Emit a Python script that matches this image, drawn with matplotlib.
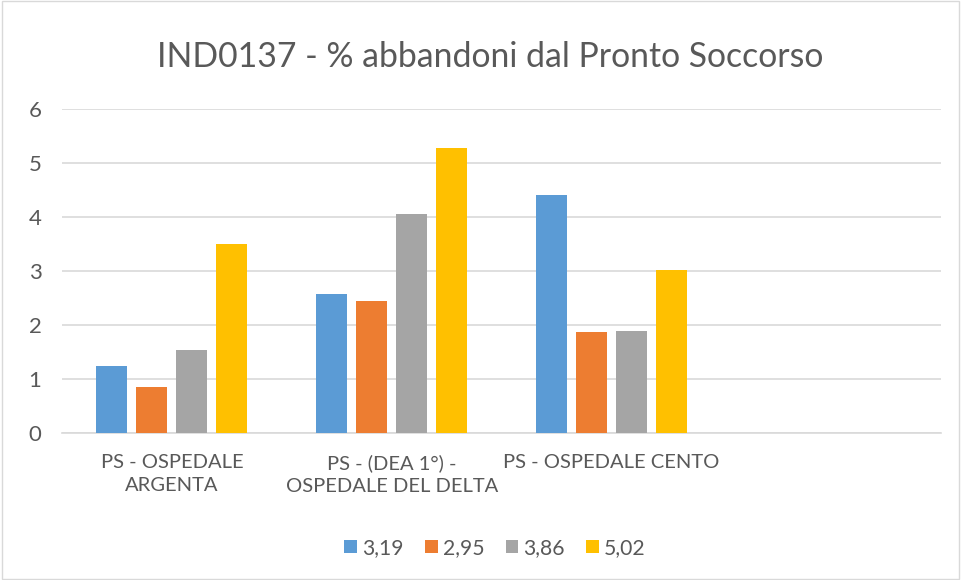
import matplotlib
matplotlib.use("Agg")
import matplotlib.pyplot as plt
import numpy as np
from matplotlib.patches import Rectangle

plt.rcParams['font.family'] = ['Lato', 'DejaVu Sans']

categories = ["PS - OSPEDALE\nARGENTA", "PS - (DEA 1°) -\nOSPEDALE DEL DELTA", "PS - OSPEDALE CENTO", ""]
series_names = ["3,19", "2,95", "3,86", "5,02"]
s1 = [1.25, 2.58, 4.41, None]
s2 = [0.86, 2.45, 1.87, None]
s3 = [1.54, 4.05, 1.90, None]
s4 = [3.50, 5.27, 3.03, None]
series = [s1, s2, s3, s4]
colors = ["#5B9BD5", "#ED7D31", "#A5A5A5", "#FFC000"]
yticks = [0, 1, 2, 3, 4, 5, 6]

fig = plt.figure(figsize=(9.61, 5.8), dpi=100)
fig.patches.append(Rectangle((0.002, 0.002), 0.996, 0.996, transform=fig.transFigure,
                             fill=False, edgecolor="#D9D9D9", linewidth=1))
ax = fig.add_axes([62/961, 1-433.3/580, (941-62)/961, (433.3-109)/580])

x = np.arange(len(categories))
step = 0.182
width = 0.141
for i, (vals, c, name) in enumerate(zip(series, colors, series_names)):
    v = np.array([np.nan if a is None else a for a in vals], dtype=float)
    ax.bar(x + (i - 1.5) * step, v, width=width, color=c, label=name, zorder=3)

ax.set_xlim(-0.5, len(categories) - 0.5)
ax.set_ylim(0, 6)
ax.set_yticks(yticks)
ax.set_yticklabels([str(t) for t in yticks])
ax.set_xticks(x)
ax.set_xticklabels(categories, linespacing=1.45)
ax.tick_params(axis='both', length=0, labelcolor="#595959")
ax.tick_params(axis='x', pad=15, labelsize=14.5)
ax.tick_params(axis='y', pad=24, labelsize=16)
for lbl in ax.get_yticklabels():
    lbl.set_horizontalalignment('left')
ax.grid(axis='y', color="#D9D9D9", linewidth=1.2, zorder=0)
for s in ["top", "right", "left"]:
    ax.spines[s].set_visible(False)
ax.spines["bottom"].set_color("#D9D9D9")
ax.spines["bottom"].set_linewidth(1.2)

fig.text(490/961, 1 - 57/580, "IND0137 - % abbandoni dal Pronto Soccorso", ha='center', va='center',
         fontsize=24.3, color="#595959")

leg = fig.legend(loc='center', bbox_to_anchor=(495/961, 1 - 548/580), ncol=4, frameon=False,
                 fontsize=15.2, handlelength=0.6, handleheight=0.6, handletextpad=0.25,
                 columnspacing=1.0, labelcolor="#595959")

fig.savefig("out.png", dpi=100)
